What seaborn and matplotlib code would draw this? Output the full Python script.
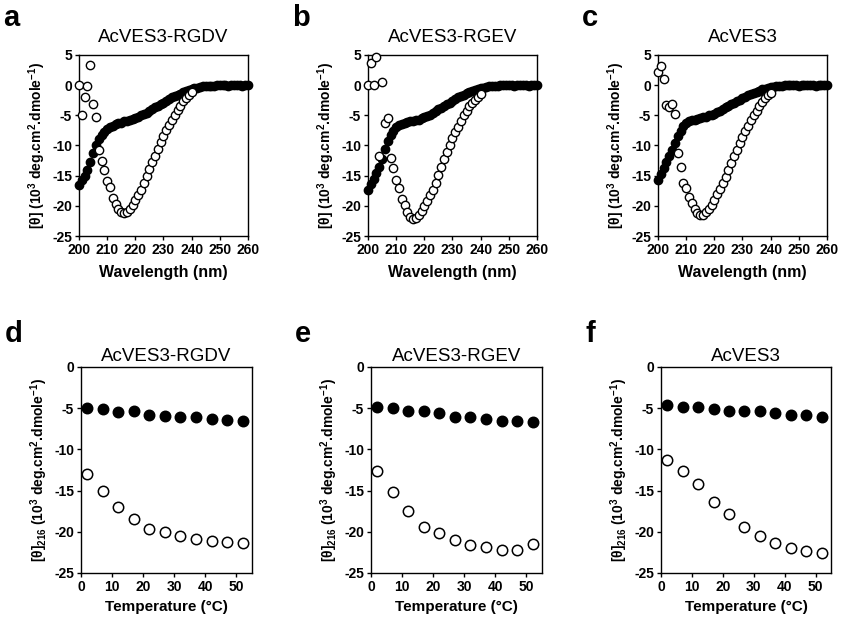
"""CD spectra and thermal melts for AcVES3 peptides."""

import numpy as np
import seaborn as sns
import matplotlib.pyplot as plt

###################################################################################################
###################################################################################################

# Wavelength scans (nm)
wl_filled = list(range(200, 261))
wl_open = list(range(200, 241))

# a - AcVES3-RGDV
a_filled = [-16.6, -15.8, -15.0, -14.0, -12.8, -11.3, -10.0, -9.0, -8.2, -7.7,
            -7.3, -7.0, -6.7, -6.5, -6.3, -6.2, -6.0, -5.9, -5.8, -5.6,
            -5.4, -5.2, -5.0, -4.8, -4.6, -4.3, -4.0, -3.7, -3.4, -3.1,
            -2.9, -2.6, -2.3, -2.0, -1.8, -1.6, -1.4, -1.2, -1.0, -0.8,
            -0.6, -0.5, -0.4, -0.3, -0.2, -0.2, -0.1, -0.1, -0.1, 0.0,
            0.0, 0.1, 0.0, -0.1, 0.0, 0.0, 0.1, 0.0, -0.1, 0.0, 0.0]
a_open = [0.0, -4.9, -2.0, -0.2, 3.4, -3.2, -5.2, -10.8, -12.6, -14.0,
          -15.9, -16.9, -18.7, -19.7, -20.5, -21.0, -21.2, -21.1, -20.5, -19.8,
          -19.0, -18.2, -17.3, -16.2, -15.0, -13.9, -12.8, -11.7, -10.5, -9.4,
          -8.4, -7.4, -6.6, -5.7, -4.9, -4.1, -3.4, -2.7, -2.2, -1.7, -1.2]

# b - AcVES3-RGEV
b_filled = [-17.3, -16.4, -15.5, -14.6, -13.6, -12.2, -10.6, -9.3, -8.3, -7.6,
            -7.0, -6.6, -6.4, -6.2, -6.1, -6.0, -5.9, -5.8, -5.7, -5.5,
            -5.3, -5.1, -4.9, -4.6, -4.3, -4.0, -3.8, -3.5, -3.2, -2.9,
            -2.6, -2.3, -2.0, -1.8, -1.6, -1.3, -1.1, -0.9, -0.8, -0.6,
            -0.5, -0.4, -0.3, -0.2, -0.2, -0.1, -0.1, 0.0, 0.0, 0.1,
            0.0, 0.0, -0.1, 0.0, 0.1, 0.0, 0.0, -0.1, 0.0, 0.0, 0.0]
b_open = [0.0, 3.6, 0.1, 4.7, -11.7, 0.6, -6.3, -5.5, -12.0, -13.8,
          -15.7, -17.1, -18.9, -19.9, -21.0, -21.8, -22.2, -22.0, -21.5, -20.8,
          -20.0, -19.2, -18.2, -17.3, -16.2, -14.9, -13.6, -12.3, -11.0, -9.9,
          -8.8, -7.8, -6.9, -5.9, -5.0, -4.2, -3.5, -2.9, -2.4, -1.9, -1.5]

# c - AcVES3
c_filled = [-15.7, -14.8, -13.8, -12.8, -11.8, -10.7, -9.6, -8.5, -7.6, -6.8,
            -6.3, -6.0, -5.8, -5.7, -5.6, -5.5, -5.3, -5.2, -5.0, -4.9,
            -4.7, -4.5, -4.2, -4.0, -3.7, -3.4, -3.2, -2.9, -2.6, -2.4,
            -2.1, -1.9, -1.7, -1.5, -1.3, -1.1, -0.9, -0.7, -0.6, -0.4,
            -0.3, -0.3, -0.2, -0.1, -0.1, 0.0, 0.0, 0.1, 0.0, 0.0,
            -0.1, 0.0, 0.0, 0.1, 0.0, 0.0, -0.1, 0.0, 0.0, 0.0, 0.0]
c_open = [2.2, 3.2, 1.1, -3.3, -3.7, -3.2, -4.7, -11.2, -13.6, -16.2,
          -17.0, -18.5, -19.6, -20.5, -21.2, -21.6, -21.5, -21.1, -20.6, -19.8,
          -19.0, -18.1, -17.2, -16.2, -15.2, -14.0, -12.9, -11.8, -10.7, -9.6,
          -8.6, -7.6, -6.7, -5.8, -5.0, -4.2, -3.5, -2.8, -2.2, -1.7, -1.3]

# Thermal melts at 216 nm (deg C)
temps = [2, 7, 12, 17, 22, 27, 32, 37, 42, 47, 52]

d_filled = [-5.0, -5.1, -5.5, -5.4, -5.8, -6.0, -6.1, -6.1, -6.3, -6.4, -6.6]
d_open = [-13.0, -15.0, -17.0, -18.5, -19.6, -20.0, -20.5, -20.9, -21.1, -21.2, -21.4]

e_filled = [-4.8, -5.0, -5.3, -5.3, -5.6, -6.1, -6.1, -6.3, -6.6, -6.6, -6.7]
e_open = [-12.6, -15.2, -17.5, -19.4, -20.2, -21.0, -21.6, -21.9, -22.2, -22.2, -21.5]

f_filled = [-4.6, -4.8, -4.8, -5.1, -5.3, -5.3, -5.4, -5.6, -5.8, -5.8, -6.1]
f_open = [-11.3, -12.6, -14.2, -16.4, -17.9, -19.4, -20.5, -21.4, -22.0, -22.3, -22.6]

names = ['AcVES3-RGDV', 'AcVES3-RGEV', 'AcVES3']

###################################################################################################
###################################################################################################

sns.set_style('ticks', {'text.color': 'black', 'axes.labelcolor': 'black',
                        'xtick.color': 'black', 'ytick.color': 'black'})
plt.rcParams['font.family'] = ['Liberation Sans', 'DejaVu Sans']
plt.rcParams['mathtext.default'] = 'regular'
plt.rcParams['axes.unicode_minus'] = False

W, H = 843, 624


def add_axes_px(fig, left, top, right, bottom):
    """Add an axes given its box in pixels from the top left."""
    return fig.add_axes([left / W, 1 - bottom / H, (right - left) / W, (bottom - top) / H])


def style_axes(ax):
    """Boxed frame, small outward ticks, bold tick labels."""
    for side in ['left', 'right', 'top', 'bottom']:
        ax.spines[side].set_visible(True)
        ax.spines[side].set_color('black')
        ax.spines[side].set_linewidth(1.0)
    ax.tick_params(direction='out', length=3, width=1, color='black', labelcolor='black',
                   labelsize=10, pad=2, top=False, right=False)
    for lab in ax.get_xticklabels() + ax.get_yticklabels():
        lab.set_fontweight('bold')


def plot_pair(ax, x_f, y_f, x_o, y_o, size, lw):
    """Filled (black) and open (white) circles."""
    sns.scatterplot(x=x_f, y=y_f, ax=ax, color='black', edgecolor='black', s=size,
                    linewidth=lw, clip_on=False, zorder=3, legend=False)
    sns.scatterplot(x=x_o, y=y_o, ax=ax, color='white', edgecolor='black', s=size,
                    linewidth=lw, clip_on=False, zorder=4, legend=False)


fig = plt.figure(figsize=[W / 100, H / 100], dpi=100)

# Top row - wavelength scans
top_boxes = [(79, 55, 248, 236), (368, 55, 537, 236), (658, 55, 827, 236)]
top_data = [(a_filled, a_open), (b_filled, b_open), (c_filled, c_open)]
ylab_top = '[θ] (10$^{3}$ deg.cm$^{2}$.dmole$^{-1}$)'

for box, (yf, yo), name, letter in zip(top_boxes, top_data, names, 'abc'):
    ax = add_axes_px(fig, *box)
    plot_pair(ax, wl_filled, yf, wl_open, yo, 36, 1.0)
    ax.set_xlim(200, 260)
    ax.set_ylim(-25, 5)
    ax.set_xticks(np.arange(200, 261, 10))
    ax.set_yticks(np.arange(-25, 6, 5))
    style_axes(ax)
    ax.set_title(name, fontsize=13.5, pad=9, color='black')
    ax.set_xlabel('Wavelength (nm)', fontsize=11.5, fontweight='bold', labelpad=6)
    ax.set_ylabel(ylab_top, fontsize=10, fontweight='bold', labelpad=3)
    fig.text((box[0] - 76) / W, 1 - 4 / H, letter, fontsize=21, fontweight='bold',
             ha='left', va='top', color='black')

# Bottom row - thermal melts
bot_boxes = [(81, 367, 252, 573), (371, 367, 542, 573), (661, 367, 831, 573)]
bot_data = [(d_filled, d_open), (e_filled, e_open), (f_filled, f_open)]
ylab_bot = '[θ]$_{216}$ (10$^{3}$ deg.cm$^{2}$.dmole$^{-1}$)'

for box, (yf, yo), name, letter in zip(bot_boxes, bot_data, names, 'def'):
    ax = add_axes_px(fig, *box)
    plot_pair(ax, temps, yf, temps, yo, 56, 1.1)
    ax.set_xlim(0, 55)
    ax.set_ylim(-25, 0)
    ax.set_xticks(np.arange(0, 51, 10))
    ax.set_yticks(np.arange(-25, 1, 5))
    style_axes(ax)
    ax.set_title(name, fontsize=13.5, pad=4, color='black')
    ax.set_xlabel('Temperature (°C)', fontsize=11, fontweight='bold', labelpad=4)
    ax.set_ylabel(ylab_bot, fontsize=10, fontweight='bold', labelpad=3)
    fig.text((box[0] - 76) / W, 1 - 320 / H, letter, fontsize=21, fontweight='bold',
             ha='left', va='top', color='black')

plt.savefig('out.png', dpi=100)
